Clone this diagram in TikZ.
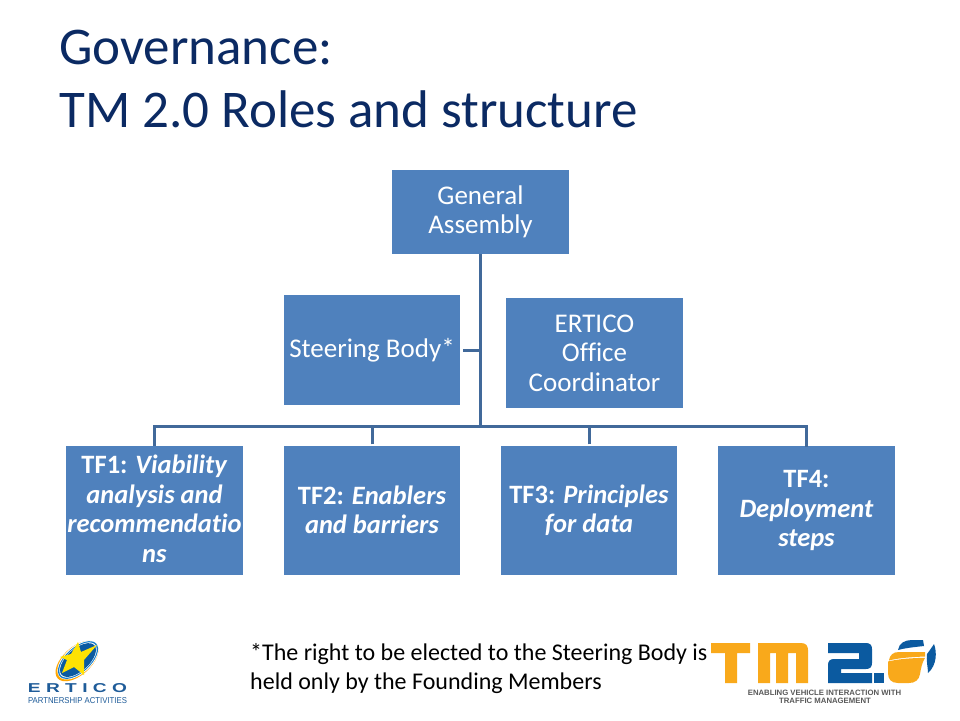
\documentclass[tikz,border=0pt]{standalone}
\usepackage{fontspec}
\setmainfont{Carlito}[RawFeature={-liga;-clig;-dlig}]
\newfontfamily\logofont{Liberation Sans}
\definecolor{boxblue}{HTML}{4F81BD}
\definecolor{linkblue}{HTML}{41699A}
\definecolor{titlenavy}{HTML}{0B2A63}
\definecolor{tmorange}{HTML}{F9A91B}
\definecolor{tmblue}{HTML}{0B5AA0}
\definecolor{ertblue}{HTML}{1F5C99}
\newcommand{\fs}[2]{\fontsize{#1}{#2}\selectfont}
\tikzset{
  x=1pt,y=-1pt,
  boxnode/.style={fill=boxblue,text=white,inner sep=0pt,align=center,font=\fs{27}{29.5}},
  tfnode/.style={boxnode,minimum height=129pt,font=\fs{26.5}{29.5}\bfseries},
  link/.style={draw=linkblue,line width=3pt},
  titletext/.style={text=titlenavy,anchor=base west,inner sep=0pt,font=\fs{53}{60}},
  foot/.style={text=black,anchor=base west,inner sep=0pt,font=\fs{24}{27}},
  tagline/.style={text=black!65,inner sep=0pt,font=\logofont\bfseries\fs{7.75}{8}}
}
\begin{document}
\begin{tikzpicture}
\useasboundingbox (0,0) rectangle (960,720);
\fill[white] (0,0) rectangle (960,720);
\node[titletext] (t1) at (59,64) {Governance:};
\node[titletext] (t2) at (59,127) {TM 2.0 Roles and structure};
% boxes
\node[boxnode,minimum width=177pt,minimum height=84pt] (ga) at (480.5,212) {General\\Assembly};
\node[boxnode,minimum width=176pt,minimum height=110pt] (sb) at (372,350) {Steering Body*};
\node[boxnode,minimum width=177pt,minimum height=110pt] (eo) at (594.5,353) {ERTICO\\Office\\Coordinator};
\node[tfnode,minimum width=177pt] (tf1) at (154.5,510)
  {TF1: \textit{Viability}\\\textit{analysis and}\\\makebox[177pt]{\textit{recommendatio}}\\\textit{ns}\rule[-3pt]{0pt}{3pt}};
\node[tfnode,minimum width=176pt] (tf2) at (372,510)
  {TF2: \textit{Enablers}\\\textit{and barriers}};
\node[tfnode,minimum width=176pt] (tf3) at (589,510)
  {TF3: \textit{Principles}\\\textit{for data}};
\node[tfnode,minimum width=177pt] (tf4) at (806.5,510)
  {\rule{0pt}{19pt}TF4:\\\textit{Deployment}\\\textit{steps}};
% connectors
\coordinate (bus) at (480,426);
\coordinate (stub) at (463,350);
\draw[link] (ga.south) -- (ga.south |- bus);
\draw[link] (stub) -- (stub -| ga.south);
\draw[link,line cap=rect] (tf1.north) ++(0,-1) -- ++(0,-18) -| (tf4.north);
\draw[link] (tf2.north) ++(0,-1) -- ++(0,-18);
\draw[link] (tf3.north) ++(0,-1) -- ++(0,-18);
% footnote
\node[foot] (f1) at (250,660) {*The right to be elected to the Steering Body is};
\node[foot] (f2) at (250,689) {held only by the Founding Members};
% ERTICO logo
\begin{scope}
  \fill[orange!70!yellow,rotate around={42:(77,661)}] (77,661) ellipse (26 and 14);
  \fill[white,rotate around={42:(78,660)}] (78,660) ellipse (25 and 13.5);
  \fill[cyan!60!blue,rotate around={42:(78,660)}] (78,660) ellipse (24.5 and 12.5);
  \fill[white,rotate around={42:(78,660)}] (78,660) ellipse (23 and 11.5);
  \fill[tmblue,rotate around={42:(78,660)}] (78,660) ellipse (22 and 11);
  \fill[yellow!85!orange] (78,642) -- (81,652) -- (97,645) -- (84,660) -- (84,675) -- (74,667) -- (62,673) -- (67,660) -- (60,657) -- (71,654) -- cycle;
\end{scope}
\node[inner sep=0pt,text=ertblue] (ert) at (77.5,688.5)
  {\resizebox{99pt}{9pt}{\logofont\bfseries E\kern.28em R\kern.28em T\kern.28em I\kern.28em C\kern.28em O}};
\node[inner sep=0pt,text=ertblue] (part) at (77.5,700.5)
  {\resizebox{99pt}{6pt}{\logofont PARTNERSHIP ACTIVITIES}};
% TM logo
\fill[tmorange] (711,643) -- (750,643) -- (750,653) -- (737,653) -- (737,683) -- (725,683) -- (725,653) -- (711,653) -- cycle;
\fill[tmorange] (758,643) -- (801,643) .. controls (806,643) and (808,646) .. (808,650) -- (808,683) -- (796,683) -- (796,653) -- (788,653) -- (788,683) -- (776,683) -- (776,653) -- (770,653) -- (770,683) -- (758,683) -- cycle;
\fill[tmblue] (828,643) -- (866,643) .. controls (870,643) and (872,645) .. (872,649) -- (872,663) .. controls (872,667) and (870,669) .. (866,669) -- (841,669) -- (841,673) -- (872,673) -- (872,683) -- (828,683) -- (828,665) .. controls (828,661) and (830,659) .. (834,659) -- (859,659) -- (859,653) -- (828,653) -- cycle;
\fill[tmblue] (874,673) rectangle (884,683);
\fill[tmblue] (898,650) .. controls (899,643) and (905,640) .. (912,640) -- (923,640) -- (924,646) .. controls (915,647) and (905,648) .. (898,650) -- cycle;
\fill[tmblue] (927,654) .. controls (930,650) and (932,647) .. (934,644) .. controls (937,652) and (937,665) .. (928,673) .. controls (928,668) and (926,660) .. (927,654) -- cycle;
\fill[tmorange] (889,660) .. controls (890,655) and (893,652) .. (899,652) -- (925,652) -- (925,656.5) .. controls (912,657) and (898,658) .. (889,660.5) -- cycle;
\fill[tmorange] (888,661.5) .. controls (898,659) and (912,658) .. (925,657.8) .. controls (922,663) and (921,668) .. (920,674) .. controls (919,680) and (915,683) .. (909,683) -- (898,683) .. controls (891,683) and (888,679) .. (888,673) -- cycle;
\node[tagline] (tag1) at (824.5,692.5) {ENABLING VEHICLE INTERACTION WITH};
\node[tagline] (tag2) at (825,700.5) {TRAFFIC MANAGEMENT};
\end{tikzpicture}
\end{document}
